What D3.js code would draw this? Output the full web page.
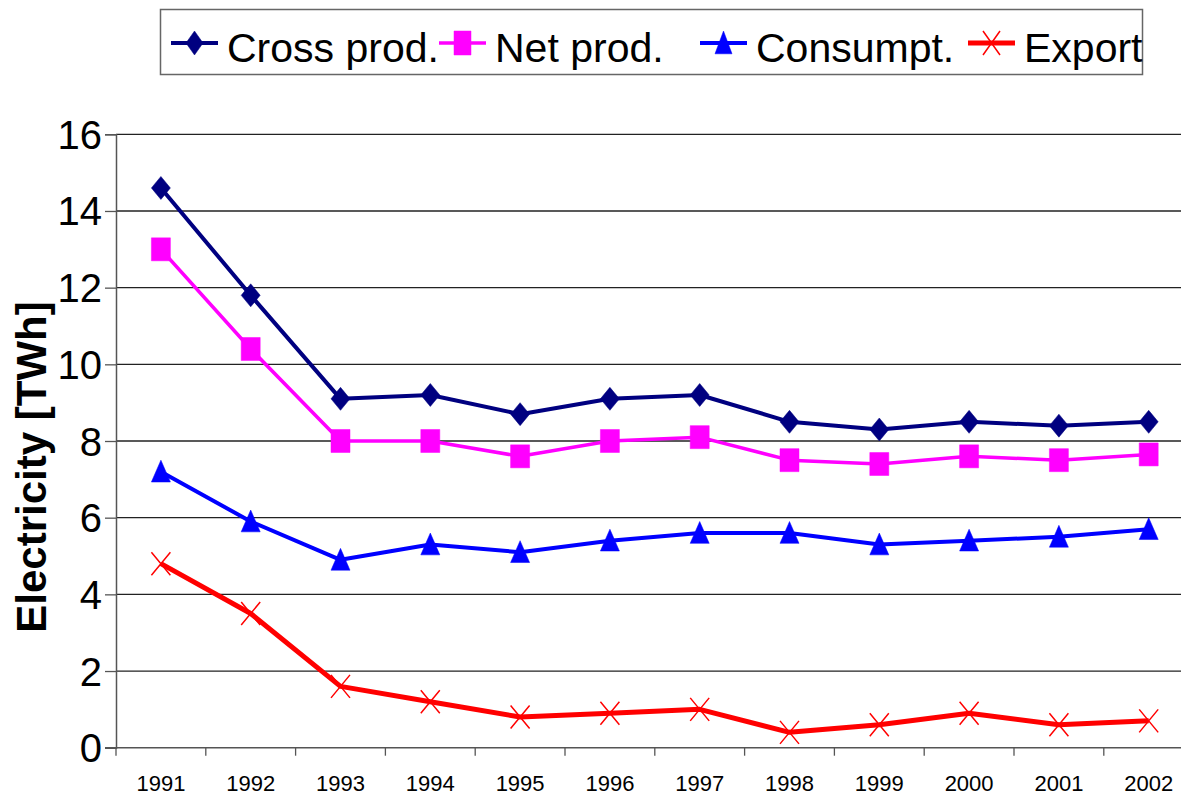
<!DOCTYPE html>
<html>
<head>
<meta charset="utf-8">
<script src="https://cdn.jsdelivr.net/npm/d3@7"></script>
<style>
  html, body { margin: 0; padding: 0; background: #fff; }
  svg { display: block; font-family: "Liberation Sans", Arial, sans-serif; }
</style>
</head>
<body>
<svg id="svg" width="1181" height="796"></svg>
<script>
// categories and values
let years = ["1991", "1992", "1993", "1994", "1995", "1996", "1997", "1998", "1999", "2000", "2001", "2002"];
let grossProd = [14.6, 11.8, 9.1, 9.2, 8.7, 9.1, 9.2, 8.5, 8.3, 8.5, 8.4, 8.5];
let netProd = [13.0, 10.4, 8.0, 8.0, 7.6, 8.0, 8.1, 7.5, 7.4, 7.6, 7.5, 7.65];
let consumption = [7.2, 5.9, 4.9, 5.3, 5.1, 5.4, 5.6, 5.6, 5.3, 5.4, 5.5, 5.7];
let exportVals = [4.8, 3.5, 1.6, 1.2, 0.8, 0.9, 1.0, 0.4, 0.6, 0.9, 0.6, 0.7];
let yTicks = [0, 2, 4, 6, 8, 10, 12, 14, 16];

let series = [
  { name: "Cross prod.", values: grossProd, color: "#000080", width: 4, marker: "diamond" },
  { name: "Net prod.", values: netProd, color: "#FF00FF", width: 3.5, marker: "square" },
  { name: "Consumpt.", values: consumption, color: "#0000FF", width: 4, marker: "triangle" },
  { name: "Export", values: exportVals, color: "#FF0000", width: 5, marker: "cross" }
];

let svg = d3.select("svg");
let margin = { left: 116, top: 134.3, bottom: 747.7 };
let band = 89.8;

let x = d3.scaleBand().domain(years).range([margin.left, margin.left + band * years.length]);
let y = d3.scaleLinear().domain([0, 16]).range([margin.bottom, margin.top]);

// marker shapes, a bit taller than wide like the original
function markerPath(type, w, h) {
  if (type == "diamond") {
    return `M0,${-h}L${w},0L0,${h}L${-w},0Z`;
  }
  if (type == "square") {
    return `M${-w},${-h}H${w}V${h}H${-w}Z`;
  }
  if (type == "triangle") {
    return `M0,${-h}L${w},${h * 0.9}H${-w}Z`;
  }
  return `M${-w},${-h}L${w},${h}M${w},${-h}L${-w},${h}`;
}

function drawMarker(sel, s, w, h) {
  sel.append("path")
    .attr("d", markerPath(s.marker, w, h))
    .attr("fill", s.marker == "cross" ? "none" : s.color)
    .attr("stroke", s.color)
    .attr("stroke-width", s.marker == "cross" ? 1.5 : 0.5);
}

// gridlines
svg.append("g")
  .selectAll("line")
  .data(yTicks.filter(d => d > 0))
  .enter().append("line")
    .attr("x1", margin.left)
    .attr("x2", 1181)
    .attr("y1", d => y(d))
    .attr("y2", d => y(d))
    .attr("stroke", "#222")
    .attr("stroke-width", 1.3);

// y axis
let yAxis = svg.append("g")
  .attr("transform", "translate(" + margin.left + ",0)")
  .call(d3.axisLeft(y).tickValues(yTicks).tickSize(11).tickPadding(3));
yAxis.select(".domain").attr("stroke", "#555").attr("stroke-width", 1.5);
yAxis.selectAll(".tick line").attr("stroke", "#555").attr("stroke-width", 1.3);
yAxis.selectAll("text")
  .attr("font-size", 40)
  .attr("fill", "#000")
  .attr("dy", "0.35em")
  .attr("font-family", "Liberation Sans, Arial, sans-serif");

// x axis: labels at band centers, ticks at band edges
let xAxis = svg.append("g")
  .attr("transform", "translate(0," + margin.bottom + ")")
  .call(d3.axisBottom(x).tickSize(0).tickPadding(28));
xAxis.select(".domain").remove();
xAxis.selectAll("text")
  .attr("font-size", 22)
  .attr("fill", "#000")
  .attr("font-family", "Liberation Sans, Arial, sans-serif");

svg.append("line")
  .attr("x1", margin.left - 11)
  .attr("x2", 1181)
  .attr("y1", margin.bottom)
  .attr("y2", margin.bottom)
  .attr("stroke", "#555")
  .attr("stroke-width", 1.5);

svg.append("g")
  .selectAll("line")
  .data(years.concat(["end"]))
  .enter().append("line")
    .attr("x1", (d, i) => margin.left + i * x.bandwidth())
    .attr("x2", (d, i) => margin.left + i * x.bandwidth())
    .attr("y1", margin.bottom)
    .attr("y2", margin.bottom + 8)
    .attr("stroke", "#555")
    .attr("stroke-width", 1.3);

// y title
svg.append("text")
  .attr("transform", "translate(46," + 467 + ") rotate(-90)")
  .attr("text-anchor", "middle")
  .attr("font-size", 42)
  .attr("font-weight", "bold")
  .text("Electricity [TWh]");

// lines and markers
let line = d3.line()
  .x((d, i) => x(years[i]) + x.bandwidth() / 2)
  .y(d => y(d));

series.forEach(s => {
  svg.append("path")
    .datum(s.values)
    .attr("fill", "none")
    .attr("stroke", s.color)
    .attr("stroke-width", s.width)
    .attr("stroke-linejoin", "round")
    .attr("d", line);

  svg.append("g")
    .selectAll("g")
    .data(s.values)
    .enter().append("g")
      .attr("transform", (d, i) => "translate(" + (x(years[i]) + x.bandwidth() / 2) + "," + y(d) + ")")
      .each(function () { drawMarker(d3.select(this), s, 9.5, 11.5); });
});

// legend
let legend = svg.append("g");
legend.append("rect")
  .attr("x", 160.5)
  .attr("y", 9.5)
  .attr("width", 982)
  .attr("height", 65)
  .attr("fill", "#fff")
  .attr("stroke", "#666")
  .attr("stroke-width", 1.5);

let legendX = [171, 439, 700, 968];
series.forEach((s, i) => {
  let item = legend.append("g").attr("transform", "translate(" + legendX[i] + ",43)");
  item.append("line")
    .attr("x1", 0).attr("x2", 47)
    .attr("stroke", s.color)
    .attr("stroke-width", s.width);
  let m = item.append("g").attr("transform", "translate(23.5,0)");
  drawMarker(m, s, 8.5, 12);
  item.append("text")
    .attr("x", 56)
    .attr("y", 19)
    .attr("font-size", 41)
    .text(s.name);
});
</script>
</body>
</html>
